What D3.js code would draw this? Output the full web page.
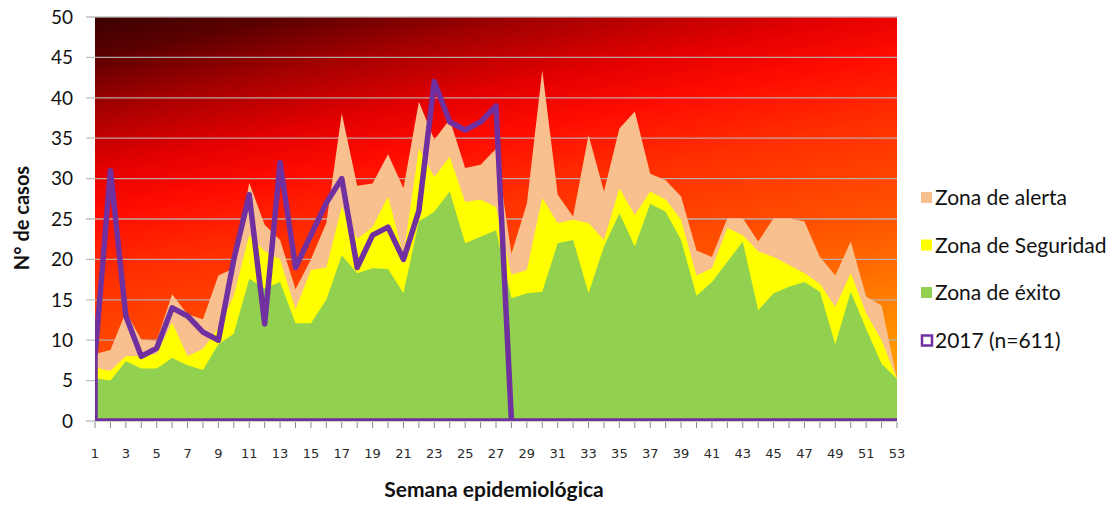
<!DOCTYPE html>
<html>
<head>
<meta charset="utf-8">
<script src="https://cdn.jsdelivr.net/npm/d3@7"></script>
<style>
  html, body { margin: 0; padding: 0; background: #fff; }
  svg { display: block; }
</style>
</head>
<body>
<svg id="chart" width="1114" height="508"></svg>
<script>
// ---------- data ----------
const weeks = [1,2,3,4,5,6,7,8,9,10,11,12,13,14,15,16,17,18,19,20,21,22,23,24,25,26,27,
               28,29,30,31,32,33,34,35,36,37,38,39,40,41,42,43,44,45,46,47,48,49,50,51,52,53];
const xTickLabels = [1,3,5,7,9,11,13,15,17,19,21,23,25,27,29,31,33,35,37,39,41,43,45,47,49,51,53];
const yTickLabels = [0,5,10,15,20,25,30,35,40,45,50];

// upper limit of each zone (cases per week)
const zonaExito = [5.3,5.0,7.4,6.5,6.5,7.8,6.9,6.3,9.5,10.8,17.6,16.4,17.2,12.1,12.1,15.0,20.5,18.3,18.9,18.8,
                   15.8,24.7,25.9,28.4,22.0,22.8,23.6,15.2,15.8,16.0,22.0,22.4,15.8,21.6,25.7,21.6,26.9,25.9,
                   22.4,15.5,17.2,19.7,22.2,13.7,15.8,16.6,17.2,16.0,9.5,16.0,11.4,7.1,5.2];
const zonaSeguridad = [6.6,6.2,8.0,8.0,8.3,12.2,8.0,8.9,11.5,15.5,23.0,21.0,20.0,13.8,18.7,19.0,26.5,22.5,24.0,
                       27.8,20.5,33.7,30.2,32.7,27.1,27.4,26.5,18.1,18.7,27.6,24.5,24.9,24.5,22.4,28.8,25.5,
                       28.4,27.4,24.9,18.0,18.9,23.9,23.0,21.0,20.3,19.3,18.3,17.0,14.1,18.3,13.3,10.0,5.2];
const zonaAlerta = [8.3,8.8,13.5,10.1,9.9,15.7,13.2,12.6,18.0,18.9,29.5,24.3,22.4,16.3,20.0,24.5,38.1,29.1,29.4,
                    33.0,28.8,39.5,34.8,37.3,31.3,31.7,33.7,20.7,26.9,43.4,28.0,25.3,35.4,28.4,36.2,38.3,30.6,
                    29.8,27.8,21.1,20.3,25.1,25.1,22.2,25.1,25.1,24.7,20.3,18.0,22.2,15.4,14.3,5.2];
const casos2017 = [8,31,13,8,9,14,13,11,10,20,28,12,32,19,23,27,30,19,23,24,20,26,42,37,36,37,39,
                   0,0,0,0,0,0,0,0,0,0,0,0,0,0,0,0,0,0,0,0,0,0,0,0,0,0];

const legendItems = [
  {label: "Zona de alerta",    color: "#f8bf8f", outline: false},
  {label: "Zona de Seguridad", color: "#ffff00", outline: false},
  {label: "Zona de éxito",     color: "#92d050", outline: false},
  {label: "2017 (n=611)",      color: "#7030a0", outline: true}
];

// ---------- layout ----------
const L = 95, R = 897, T = 17, B = 421;
const svg = d3.select("#chart");
const x = d3.scalePoint().domain(weeks).range([L, R]);
const y = d3.scaleLinear().domain([0, 50]).range([B, T]);

const defs = svg.append("defs");
const grad = defs.append("linearGradient")
  .attr("id", "bg").attr("gradientUnits", "userSpaceOnUse")
  .attr("x1", L).attr("y1", T).attr("x2", L + 110).attr("y2", T + 545);
[[0, "#3a0000"], [0.07, "#5c0000"], [0.16, "#a20000"], [0.27, "#e40000"], [0.35, "#ff0c00"],
 [0.46, "#ff2e00"], [0.62, "#ff5000"], [0.72, "#ff6c00"], [0.82, "#ff8a00"], [1, "#ffb400"]]
  .forEach(([o, c]) => grad.append("stop").attr("offset", o).attr("stop-color", c));

defs.append("clipPath").attr("id", "plotClip")
  .append("rect").attr("x", L).attr("y", T).attr("width", R - L).attr("height", B - T);

// background
svg.append("rect").attr("x", L).attr("y", T).attr("width", R - L).attr("height", B - T)
  .attr("fill", "url(#bg)");

// gridlines + left ticks
svg.append("g").selectAll("line").data(yTickLabels).join("line")
  .attr("x1", L - 9).attr("x2", R)
  .attr("y1", d => y(d)).attr("y2", d => y(d))
  .attr("stroke", "#b8b8b8").attr("stroke-width", 1.3).attr("opacity", 0.9);

// zones
const plot = svg.append("g").attr("clip-path", "url(#plotClip)");
const zones = [[zonaAlerta, "#f8bf8f"], [zonaSeguridad, "#ffff00"], [zonaExito, "#92d050"]];
zones.forEach(([vals, col]) => {
  const area = d3.area().x((d, i) => x(weeks[i])).y0(y(0)).y1(d => y(d));
  plot.append("path").datum(vals).attr("d", area).attr("fill", col);
});

// 2017 series (area outline, no fill)
const area2017 = d3.area().x((d, i) => x(weeks[i])).y0(y(0)).y1(d => y(d));
plot.append("path").datum(casos2017).attr("d", area2017)
  .attr("fill", "none").attr("stroke", "#7030a0").attr("stroke-width", 5.5)
  .attr("stroke-linejoin", "round");

// x ticks
svg.append("g").selectAll("line").data(weeks).join("line")
  .attr("x1", d => x(d)).attr("x2", d => x(d))
  .attr("y1", B + 1).attr("y2", B + 7)
  .attr("stroke", "#8a8a8a").attr("stroke-width", 1);

// x labels
svg.append("g").selectAll("text").data(xTickLabels).join("text")
  .attr("x", d => x(d)).attr("y", 458)
  .attr("text-anchor", "middle")
  .attr("font-family", "DejaVu Sans, Verdana, sans-serif").attr("font-size", 13)
  .attr("fill", "#2a2a2a").text(d => d);

// y labels
svg.append("g").selectAll("text").data(yTickLabels).join("text")
  .attr("x", 73).attr("y", d => y(d))
  .attr("dy", "0.36em")
  .attr("text-anchor", "end")
  .attr("font-family", "Lato, sans-serif").attr("font-size", 19)
  .attr("fill", "#111").text(d => d);

// axis titles
svg.append("text")
  .attr("x", 494).attr("y", 497).attr("text-anchor", "middle")
  .attr("font-family", "Lato, sans-serif").attr("font-weight", "bold").attr("font-size", 21)
  .attr("fill", "#111").text("Semana epidemiológica");

svg.append("text")
  .attr("transform", "translate(29,218) rotate(-90)")
  .attr("text-anchor", "middle")
  .attr("font-family", "Lato, sans-serif").attr("font-weight", "bold").attr("font-size", 20)
  .attr("fill", "#111").text("N° de casos");

// legend
const lg = svg.append("g").selectAll("g").data(legendItems).join("g")
  .attr("transform", (d, i) => `translate(921, ${198 + i * 47.5})`);
lg.append("rect")
  .attr("x", d => d.outline ? 1 : 0).attr("y", d => d.outline ? -5 : -6)
  .attr("width", d => d.outline ? 10 : 11).attr("height", d => d.outline ? 10 : 11)
  .attr("fill", d => d.outline ? "#fff" : d.color)
  .attr("stroke", d => d.outline ? d.color : "none")
  .attr("stroke-width", d => d.outline ? 2.5 : 0);
lg.append("text")
  .attr("x", 14).attr("y", 0).attr("dy", "0.35em")
  .attr("font-family", "Lato, sans-serif").attr("font-size", 21)
  .attr("fill", "#111").text(d => d.label);
</script>
</body>
</html>
